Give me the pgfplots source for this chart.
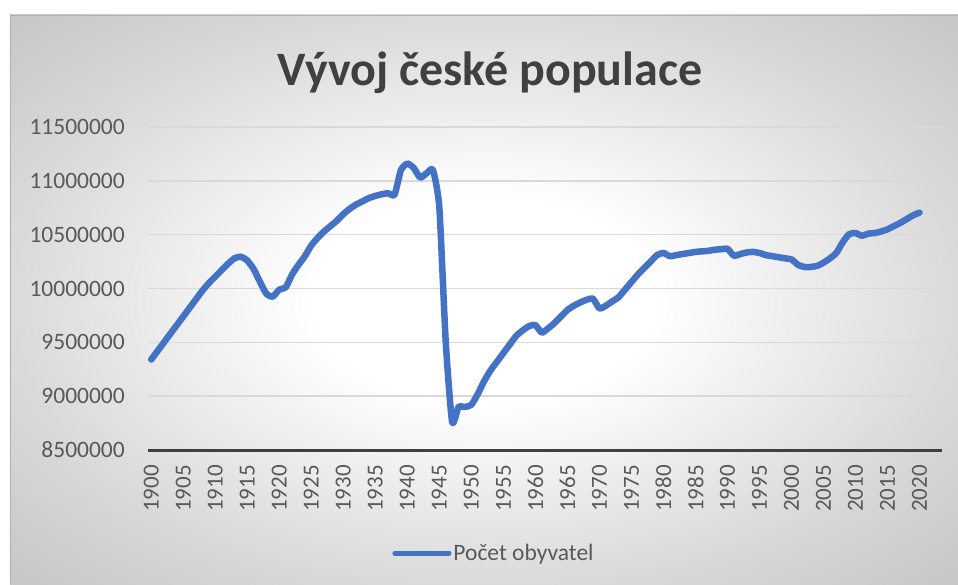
\documentclass[border=0pt]{standalone}
\usepackage{pgfplots}
\pgfplotsset{compat=1.18}
\usepackage{pgfplotstable}
\usepackage{fontspec}
\setmainfont{Carlito}
\definecolor{linec}{HTML}{4472C4}
\definecolor{txt}{HTML}{595959}
\definecolor{ttl}{HTML}{404040}
\definecolor{gridc}{HTML}{D9D9D9}
\definecolor{axc}{HTML}{404040}
\definecolor{bgedge}{HTML}{DADADA}
\definecolor{bgcorner}{HTML}{C6C6C6}
\pgfdeclareradialshading{chartbg}{\pgfpoint{0bp}{0bp}}{color(0bp)=(white); color(9bp)=(white); color(25bp)=(bgedge); color(35.5bp)=(bgcorner); color(50bp)=(bgcorner)}

\pgfplotstableread{
year pop
1900 9340000
1901 9420000
1902 9500000
1903 9580000
1904 9660000
1905 9740000
1906 9820000
1907 9900000
1908 9980000
1909 10050000
1910 10110000
1911 10170000
1912 10230000
1913 10280000
1914 10295000
1915 10260000
1916 10180000
1917 10060000
1918 9950000
1919 9925000
1920 9990000
1921 10010000
1922 10130000
1923 10220000
1924 10300000
1925 10400000
1926 10470000
1927 10530000
1928 10580000
1929 10630000
1930 10690000
1931 10740000
1932 10780000
1933 10810000
1934 10840000
1935 10860000
1936 10875000
1937 10885000
1938 10870000
1939 11100000
1940 11160000
1941 11120000
1942 11030000
1943 11070000
1944 11100000
1945 10750000
1946 9500000
1947 8760000
1948 8900000
1949 8900000
1950 8920000
1951 9020000
1952 9140000
1953 9240000
1954 9320000
1955 9400000
1956 9480000
1957 9560000
1958 9610000
1959 9650000
1960 9660000
1961 9590000
1962 9630000
1963 9680000
1964 9740000
1965 9800000
1966 9840000
1967 9870000
1968 9895000
1969 9905000
1970 9815000
1971 9840000
1972 9880000
1973 9920000
1974 9990000
1975 10060000
1976 10130000
1977 10190000
1978 10250000
1979 10310000
1980 10330000
1981 10300000
1982 10310000
1983 10320000
1984 10330000
1985 10340000
1986 10345000
1987 10350000
1988 10360000
1989 10365000
1990 10368000
1991 10305000
1992 10320000
1993 10335000
1994 10340000
1995 10330000
1996 10310000
1997 10300000
1998 10290000
1999 10280000
2000 10270000
2001 10220000
2002 10200000
2003 10200000
2004 10210000
2005 10240000
2006 10280000
2007 10330000
2008 10430000
2009 10505000
2010 10515000
2011 10490000
2012 10510000
2013 10515000
2014 10530000
2015 10550000
2016 10580000
2017 10610000
2018 10645000
2019 10680000
2020 10705000
}\poptable

\begin{document}
\begin{tikzpicture}
\path[use as bounding box] (-148pt,-134pt) rectangle (810pt,450pt);
\shade[shading=chartbg] (-138pt,-134pt) rectangle (810pt,435pt);
\draw[color=gray!60, line width=0.8pt] (-138pt,-134pt) -- (-138pt,435pt) -- (810pt,435pt);
\node[anchor=base, font=\fontsize{48}{56}\selectfont\bfseries, text=ttl] at (342pt,364pt) {Vývoj české populace};
\begin{axis}[
  at={(0pt,0pt)}, anchor=south west,
  scale only axis,
  width=794pt, height=323pt,
  xmin=1899.5, xmax=2023.5,
  ymin=8500000, ymax=11500000,
  xtick={1900,1905,...,2020},
  ytick={8500000,9000000,...,11500000},
  scaled y ticks=false,
  /pgf/number format/assume math mode=true,
  yticklabel style={/pgf/number format/fixed, /pgf/number format/1000 sep={}, anchor=east, inner sep=0pt, xshift=-23pt, font=\fontsize{23.5}{28}\selectfont, text=txt},
  xticklabel style={/pgf/number format/1000 sep={}, rotate=90, anchor=east, inner sep=0pt, xshift=-15pt, font=\fontsize{23}{28}\selectfont, text=txt},
  major tick length=0pt,
  axis x line=bottom,
  axis y line=left,
  x axis line style={-, color=axc, line width=3pt},
  y axis line style={-, draw=none},
  ymajorgrids,
  grid style={color=gridc, line width=1.5pt},
  clip=false,
  legend style={at={(0.4358,-0.319)}, anchor=center, draw=none, fill=none, font=\fontsize{23.5}{28}\selectfont, text=txt},
  legend image code/.code={\draw[#1, line width=5pt, line cap=round] (0pt,0pt) -- (54pt,0pt);},
]
\addplot[color=linec, line width=6.5pt, line cap=round, line join=round, smooth, tension=0.35] table[x=year, y=pop] {\poptable};
\addlegendentry{Počet obyvatel}
\end{axis}
\end{tikzpicture}
\end{document}
